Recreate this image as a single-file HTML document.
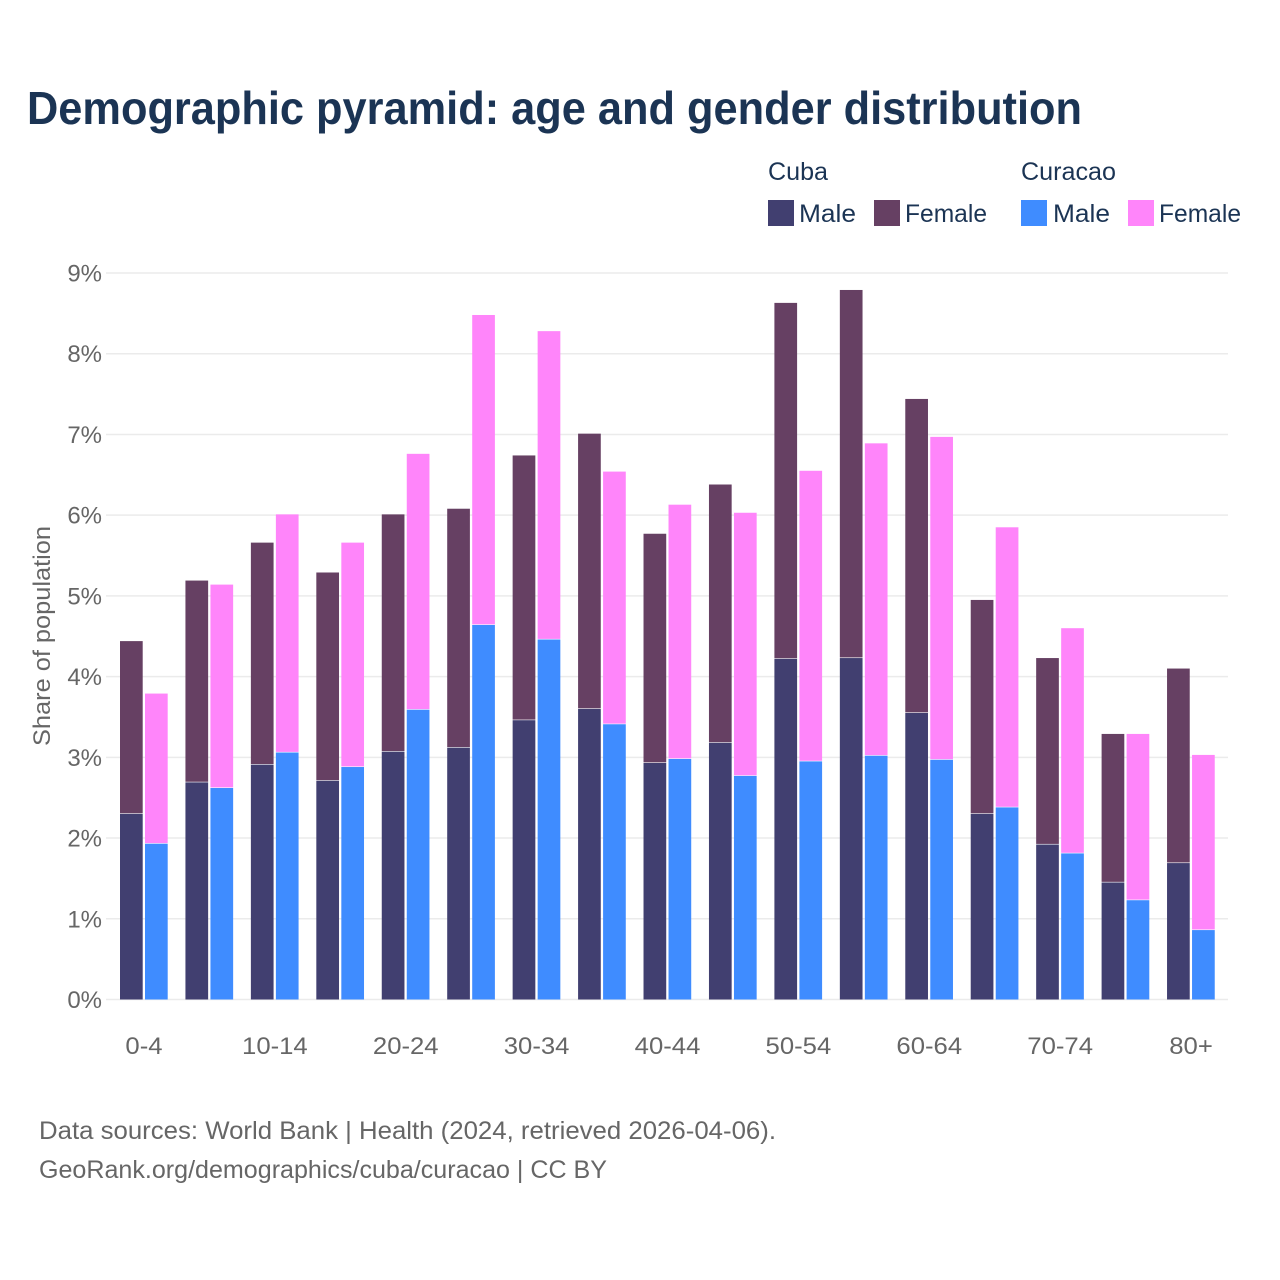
<!DOCTYPE html>
<html lang="en">
<head>
<meta charset="utf-8">
<title>Demographic pyramid: age and gender distribution</title>
<style>
html,body{margin:0;padding:0;background:#fff;width:1280px;height:1280px;overflow:hidden}
svg{display:block}
text{font-family:"Liberation Sans",Arial,sans-serif}
</style>
</head>
<body>
<svg id="chart" width="1280" height="1280" viewBox="0 0 1280 1280" xmlns="http://www.w3.org/2000/svg">
<rect width="1280" height="1280" fill="#ffffff"/>
<text x="27" y="124" font-size="46" font-weight="700" fill="#1b3454" textLength="1055" lengthAdjust="spacingAndGlyphs">Demographic pyramid: age and gender distribution</text>
<g id="grid"></g>
<g id="yaxis"></g>
<g id="bars"></g>
<g id="xaxis"></g>
<text transform="translate(50,636) rotate(-90)" text-anchor="middle" font-size="24" fill="#666666" textLength="220" lengthAdjust="spacingAndGlyphs">Share of population</text>
<g>
  <text x="768" y="180" font-size="25" fill="#1b3454" textLength="60" lengthAdjust="spacingAndGlyphs">Cuba</text>
  <text x="1021" y="180" font-size="25" fill="#1b3454" textLength="95" lengthAdjust="spacingAndGlyphs">Curacao</text>
  <g>
    <rect x="768" y="200" width="26" height="26" fill="#413f70"/>
    <text x="799" y="222" font-size="25" fill="#1b3454" textLength="57" lengthAdjust="spacingAndGlyphs">Male</text>
  </g>
  <g>
    <rect x="874" y="200" width="26" height="26" fill="#664063"/>
    <text x="905" y="222" font-size="25" fill="#1b3454" textLength="82" lengthAdjust="spacingAndGlyphs">Female</text>
  </g>
  <g>
    <rect x="1021" y="200" width="26" height="26" fill="#3f8cff"/>
    <text x="1053" y="222" font-size="25" fill="#1b3454" textLength="57" lengthAdjust="spacingAndGlyphs">Male</text>
  </g>
  <g>
    <rect x="1128" y="200" width="26" height="26" fill="#ff85fa"/>
    <text x="1159" y="222" font-size="25" fill="#1b3454" textLength="82" lengthAdjust="spacingAndGlyphs">Female</text>
  </g>
</g>
<text x="39" y="1139" font-size="25" fill="#666666" textLength="737" lengthAdjust="spacingAndGlyphs">Data sources: World Bank | Health (2024, retrieved 2026-04-06).</text>
<text x="39" y="1178" font-size="25" fill="#666666" textLength="568" lengthAdjust="spacingAndGlyphs">GeoRank.org/demographics/cuba/curacao | CC BY</text>
</svg>
<script>
const categories = ["0-4","5-9","10-14","15-19","20-24","25-29","30-34","35-39","40-44","45-49","50-54","55-59","60-64","65-69","70-74","75-79","80+"];
const xTickLabels = ["0-4","","10-14","","20-24","","30-34","","40-44","","50-54","","60-64","","70-74","","80+"];
const yTicks = [0,1,2,3,4,5,6,7,8,9];
const cubaMale = [2.30,2.69,2.91,2.71,3.07,3.12,3.46,3.60,2.93,3.18,4.22,4.23,3.55,2.30,1.92,1.45,1.69];
const cubaFemale = [2.14,2.50,2.75,2.58,2.94,2.96,3.28,3.41,2.84,3.20,4.41,4.56,3.89,2.65,2.31,1.84,2.41];
const curacaoMale = [1.93,2.62,3.06,2.88,3.59,4.64,4.46,3.41,2.98,2.77,2.95,3.02,2.97,2.38,1.81,1.23,0.86];
const curacaoFemale = [1.86,2.52,2.95,2.78,3.17,3.84,3.82,3.13,3.15,3.26,3.60,3.87,4.00,3.47,2.79,2.06,2.17];

const NS = "http://www.w3.org/2000/svg";
const PLOT_LEFT = 106, PLOT_RIGHT = 1228, Y0 = 999.5, PX_PER_PCT = 80.72;
const FIRST_BAR = 120, BAND = 65.44, BAR_W = 22.7, BAR_GAP = 25;
const COLORS = {cubaMale:"#413f70",cubaFemale:"#664063",curacaoMale:"#3f8cff",curacaoFemale:"#ff85fa"};
function yScale(v){ return Y0 - v * PX_PER_PCT; }
function xScale(i, s){ return FIRST_BAR + i * BAND + s * BAR_GAP; }
function make(parent, tag, attrs){
  const el = document.createElementNS(NS, tag);
  for (const k in attrs) el.setAttribute(k, attrs[k]);
  parent.appendChild(el);
  return el;
}
const grid = document.getElementById("grid");
const yaxis = document.getElementById("yaxis");
const bars = document.getElementById("bars");
const xaxis = document.getElementById("xaxis");

yTicks.forEach(function(t){
  const line = make(grid, "line", {x1:PLOT_LEFT, x2:PLOT_RIGHT, y1:yScale(t), y2:yScale(t), stroke:"#ebebeb", "stroke-width":1.5});
  
  
  const label = make(yaxis, "text", {x:102, y:yScale(t)+8.5, "text-anchor":"end", "font-size":24, fill:"#666666"});
  label.textContent = t + "%";
  
  
});

function drawStack(key, male, female, slot, maleColor, femaleColor){
  categories.forEach(function(cat, i){
    const x = xScale(i, slot);
    const yM = yScale(male[i]);
    const yT = yScale(male[i] + female[i]);
    const m = make(bars, "rect", {x:x, y:yM, width:BAR_W, height:Y0 - yM, fill:maleColor});
    
    
    const f = make(bars, "rect", {x:x, y:yT, width:BAR_W, height:yM - yT - 0.6, fill:femaleColor});
    
    
  });
}
drawStack("cuba", cubaMale, cubaFemale, 0, COLORS.cubaMale, COLORS.cubaFemale);
drawStack("curacao", curacaoMale, curacaoFemale, 1, COLORS.curacaoMale, COLORS.curacaoFemale);

xTickLabels.forEach(function(lab, i){
  if (!lab) return;
  const t = make(xaxis, "text", {x:xScale(i,0)+24, y:1054, "text-anchor":"middle", "font-size":24, fill:"#666666", lengthAdjust:"spacingAndGlyphs"});
  t.textContent = lab;
  
  
  t.setAttribute('textLength', t.getComputedTextLength() * 1.07);
});
</script>
</body>
</html>
